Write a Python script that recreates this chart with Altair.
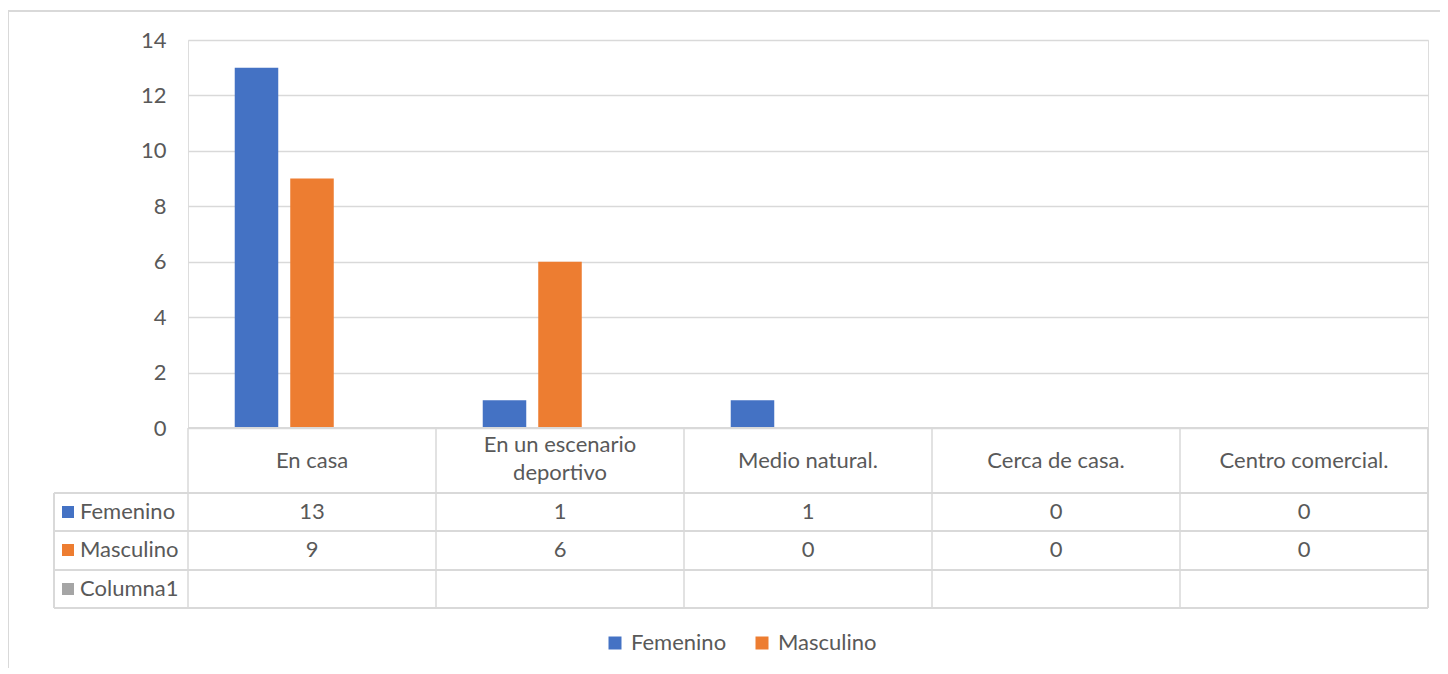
import altair as alt
import pandas as pd

categories = ["En casa", "En un escenario deportivo", "Medio natural.", "Cerca de casa.", "Centro comercial."]
header_labels = ["En casa", "En un escenario\ndeportivo", "Medio natural.", "Cerca de casa.", "Centro comercial."]
femenino = [13, 1, 1, 0, 0]
masculino = [9, 6, 0, 0, 0]
series = ["Femenino", "Masculino", "Columna1"]
colors = ["#4472C4", "#ED7D31", "#A5A5A5"]
y_ticks = [0, 2, 4, 6, 8, 10, 12, 14]

FONT = "Lato"
FS = 22
TXT = "#595959"
GRID = "#D9D9D9"

rows = []
for i, c in enumerate(categories):
    rows.append({"cat": c, "series": "Femenino", "value": femenino[i]})
    rows.append({"cat": c, "series": "Masculino", "value": masculino[i]})
    rows.append({"cat": c, "series": "Columna1", "value": None})
bars_df = pd.DataFrame(rows)

cats_df = pd.DataFrame({"cat": categories, "header": header_labels})
ser_df = pd.DataFrame({"series": series})

W, H = 1240, 388

xenc = alt.X("cat:N", sort=categories, axis=None,
             scale=alt.Scale(paddingInner=0, paddingOuter=0))
color_enc = alt.Color("series:N", sort=series,
                      scale=alt.Scale(domain=series, range=colors),
                      legend=alt.Legend(values=["Femenino", "Masculino"], orient="none",
                                        legendX=416, legendY=592, direction="horizontal",
                                        title=None, symbolType="square", symbolSize=169,
                                        symbolStrokeWidth=0, labelFont=FONT, labelFontSize=FS,
                                        labelColor=TXT, labelOffset=5, columnPadding=24,
                                        padding=0))

bars = alt.Chart(bars_df).mark_bar().encode(
    x=xenc,
    xOffset=alt.XOffset("series:N", sort=series,
                        scale=alt.Scale(paddingInner=0.216, paddingOuter=0.842)),
    y=alt.Y("value:Q", scale=alt.Scale(domain=[0, 14], nice=False),
            axis=alt.Axis(values=y_ticks, title=None, domain=False, ticks=False,
                          grid=True, gridColor=GRID, gridWidth=1.5,
                          labelFont=FONT, labelFontSize=FS, labelColor=TXT,
                          labelPadding=22)),
    color=color_enc,
)

# table grid lines
hl_top = alt.Chart(cats_df).mark_rule(color=GRID, strokeWidth=1.5).encode(
    x=alt.value(0), x2=alt.value(W), y=alt.value(H))
hl_rows = [alt.Chart(cats_df).mark_rule(color=GRID, strokeWidth=1.5).encode(
    x=alt.value(-134), x2=alt.value(W), y=alt.value(yy)) for yy in [453, 491, 530, 568]]
vl_cats = alt.Chart(cats_df).mark_rule(color=GRID, strokeWidth=1.5).encode(
    x=alt.X("cat:N", sort=categories, bandPosition=0),
    y=alt.value(H), y2=alt.value(568))
vl_right = alt.Chart(cats_df).mark_rule(color=GRID, strokeWidth=1.5).encode(
    x=alt.value(W), y=alt.value(H), y2=alt.value(568))
vl_left = alt.Chart(cats_df).mark_rule(color=GRID, strokeWidth=1.5).encode(
    x=alt.value(-134), y=alt.value(453), y2=alt.value(568))

is_multi = "indexof(datum.header, '\\n') >= 0"
headers_single = alt.Chart(cats_df).transform_filter("!(" + is_multi + ")").mark_text(
    font=FONT, fontSize=FS, color=TXT, baseline="middle").encode(
    x=alt.X("cat:N", sort=categories, bandPosition=0.5),
    y=alt.value(421), text="header:N")
headers_multi = alt.Chart(cats_df).transform_filter(is_multi).mark_text(
    font=FONT, fontSize=FS, color=TXT, lineBreak="\n", lineHeight=28,
    baseline="middle").encode(
    x=alt.X("cat:N", sort=categories, bandPosition=0.5),
    y=alt.value(405), text="header:N")

def value_row(name, ypix):
    return alt.Chart(bars_df).transform_filter(alt.datum.series == name).mark_text(
        font=FONT, fontSize=FS, color=TXT, baseline="middle").encode(
        x=alt.X("cat:N", sort=categories, bandPosition=0.5),
        y=alt.value(ypix), text="value:Q")

row_y = {"Femenino": 472, "Masculino": 510, "Columna1": 549}
key_layers = []
for s, col in zip(series, colors):
    key_layers.append(alt.Chart(ser_df).transform_filter(alt.datum.series == s)
                      .mark_square(size=144, color=col, opacity=1).encode(
                          x=alt.value(-120), y=alt.value(row_y[s])))
    key_layers.append(alt.Chart(ser_df).transform_filter(alt.datum.series == s)
                      .mark_text(font=FONT, fontSize=FS, color=TXT, align="left",
                                 baseline="middle").encode(
                          x=alt.value(-108), y=alt.value(row_y[s]), text="series:N"))

# outer chart border (top & left)
border_top = alt.Chart(cats_df).mark_rule(color=GRID, strokeWidth=1.5).encode(
    x=alt.value(-180), x2=alt.value(1260), y=alt.value(-29))
border_left = alt.Chart(cats_df).mark_rule(color=GRID, strokeWidth=1.5).encode(
    x=alt.value(-180), y=alt.value(-29), y2=alt.value(640))

chart = alt.layer(
    border_top, border_left,
    bars, hl_top, *hl_rows, vl_cats, vl_right, vl_left, headers_single, headers_multi,
    value_row("Femenino", 472), value_row("Masculino", 510),
    *key_layers,
).properties(
    width=W, height=H,
    autosize=alt.AutoSizeParams(type="none"),
    padding={"left": 180, "top": 32, "right": 12, "bottom": 240},
).configure_view(stroke=None).configure(background="white")

chart.save("out.html", embed_options={"renderer": "svg", "actions": False})
